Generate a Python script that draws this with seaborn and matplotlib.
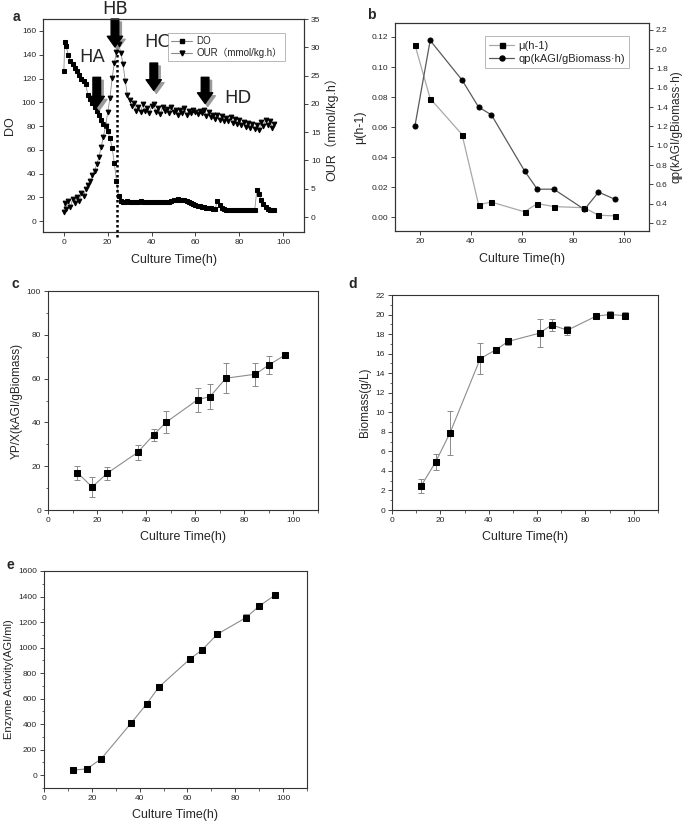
import matplotlib
matplotlib.use("Agg")
import matplotlib.pyplot as plt
import numpy as np
import pandas as pd
import seaborn as sns
from matplotlib.ticker import MultipleLocator, FormatStrFormatter
from matplotlib.lines import Line2D

sns.set_style("ticks")
plt.rcParams["font.family"] = ["Liberation Sans", "Noto Sans CJK SC", "DejaVu Sans"]

# ---- panel a: online DO / OUR ----
t_a = [0, 0.4] + list(range(1, 97))
do_a = [126, 151, 147, 140, 135, 132, 129, 126, 123, 120, 118, 115, 106, 103, 99, 96,
        93, 89, 85, 82, 80, 76, 70, 62, 49, 34, 21, 17, 16.5,
        16.2, 16.8, 16.4, 16.0, 16.6, 16.3, 16.1, 16.7, 16.4, 16.2, 16.5, 16.0, 16.3,
        16.6, 16.2, 15.9, 16.4, 16.1, 16.3, 16.0, 16.2,
        16.8, 17.5, 18.2, 18.5, 18.3, 18.0, 17.6, 16.8, 15.8, 15.0, 14.2, 13.5, 13.0,
        12.5, 12.0, 11.6, 11.2, 11.0, 10.8, 10.6, 10.5, 17.0, 13.5, 11.5, 10.3, 9.8, 9.5,
        9.4, 9.3, 9.3, 9.2, 9.3, 9.2, 9.3, 9.2, 9.3, 9.3, 9.2, 9.3,
        26.0, 23.0, 18.0, 14.5, 12.0, 10.5, 9.8, 9.4, 9.2]
our_a = [0.8, 2.5, 1.5, 2.8, 1.8, 3.2, 2.5, 3.6, 2.9, 4.2, 3.8, 5.0, 5.6, 6.3, 7.4, 8.2,
         9.3, 10.6, 12.3, 14.2, 16.0, 18.5, 21.0, 24.5, 27.2, 29.2, 30.5, 29.0, 27.0,
         24.0, 21.5, 20.6, 19.6, 20.2, 18.8, 19.5, 18.5, 19.9, 18.7, 19.2, 18.4, 19.6,
         20.0, 18.6, 19.3, 18.2, 19.5, 18.8, 19.1, 18.3, 19.4, 18.6, 19.0, 18.1, 18.9,
         18.4, 19.2, 18.0, 18.7, 18.3, 18.9, 18.5, 18.2, 18.8, 18.4, 19.0, 17.8, 18.6,
         17.6, 18.1, 17.3, 18.0, 17.2, 17.8, 16.9, 17.5, 17.0, 17.6, 16.7, 17.3, 16.5,
         17.1, 16.2, 16.8, 15.9, 16.6, 15.7, 16.4, 15.5, 16.2, 15.3, 16.8, 16.0, 17.2,
         16.3, 16.9, 15.8, 16.4]

# ---- panel b: specific rates ----
t_b = [18, 24, 36.5, 43, 48, 61, 66, 72.5, 84.5, 90, 96.5]
mu_b = [0.115, 0.079, 0.055, 0.0082, 0.010, 0.0035, 0.009, 0.007, 0.0062, 0.0012, 0.0008]
qp_b = [1.20, 2.09, 1.68, 1.40, 1.32, 0.74, 0.55, 0.55, 0.34, 0.52, 0.445]

# ---- panels c, d, e: sampled data ----
t_s = [12, 18, 24, 36.5, 43, 48, 61, 66, 72.5, 84.5, 90, 96.5]
yield_c = [17, 10.5, 16.7, 26.3, 34.3, 40, 50.4, 51.8, 60.2, 62, 66.3, 70.7]
yield_err = [3.3, 4.5, 3.0, 3.5, 2.7, 5.0, 5.5, 5.7, 6.8, 5.3, 4.0, 1.5]
biomass_d = [2.45, 4.9, 7.9, 15.5, 16.4, 17.25, 18.1, 18.95, 18.4, 19.85, 20.0, 19.9]
biomass_err = [0.7, 0.85, 2.25, 1.55, 0.1, 0.35, 1.4, 0.6, 0.45, 0.1, 0.4, 0.35]
enzyme_e = [40, 50, 130, 410, 560, 690, 910, 980, 1105, 1235, 1325, 1410]
enzyme_err = [8, 10, 12, 12, 10, 10, 12, 12, 20, 25, 12, 12]

LINE = "#8c8c8c"
TICK_FS = 6
LAB_FS = 9

fig = plt.figure(figsize=(6.85, 8.23), dpi=100)


def style(ax, minor_x=None, minor_y=None):
    for s in ax.spines.values():
        s.set_visible(True)
        s.set_linewidth(0.8)
        s.set_color("#333333")
    ax.tick_params(labelsize=TICK_FS, length=3, width=0.6, direction="out", pad=2)
    ax.tick_params(which="minor", length=1.8, width=0.5)
    if minor_x:
        ax.xaxis.set_minor_locator(MultipleLocator(minor_x))
    if minor_y:
        ax.yaxis.set_minor_locator(MultipleLocator(minor_y))


# ---------------- a ----------------
ax = fig.add_axes([0.0628, 0.7181, 0.381, 0.2588])
ax2 = ax.twinx()
dfa = pd.DataFrame({"t": t_a, "DO": do_a, "OUR": our_a})
sns.lineplot(data=dfa, x="t", y="DO", ax=ax, color=LINE, lw=0.6, marker="s",
             markersize=2.6, markerfacecolor="black", markeredgecolor="black", sort=False)
sns.lineplot(data=dfa, x="t", y="OUR", ax=ax2, color=LINE, lw=0.6, marker="v",
             markersize=3.4, markerfacecolor="black", markeredgecolor="black", sort=False)
ax.set_xlim(-9.5, 109.5)
ax.set_ylim(-9, 170)
ax2.set_ylim(-2.65, 35)
ax.xaxis.set_major_locator(MultipleLocator(20))
ax.yaxis.set_major_locator(MultipleLocator(20))
ax2.yaxis.set_major_locator(MultipleLocator(5))
ax.set_xlabel("Culture Time(h)", fontsize=LAB_FS, labelpad=6)
ax.set_ylabel("DO", fontsize=LAB_FS, labelpad=4)
ax2.set_ylabel("OUR（mmol/kg.h）", fontsize=LAB_FS, labelpad=3)
style(ax)
style(ax2)
ax.plot([24.2, 24.2], [-13, 146], ls=(0, (1, 1)), color="black", lw=1.8, clip_on=False, zorder=5)

arrows = [(15, 121, 96), (23.3, 170, 146.5), (41, 133, 110), (64.4, 121, 99)]
for xa, y0, y1 in arrows:
    for dx, dy, col, z in [(1.2, -2.5, "#9a9a9a", 6), (0, 0, "black", 7)]:
        ax.annotate("", xy=(xa + dx, y1 + dy), xytext=(xa + dx, y0 + dy),
                    arrowprops=dict(arrowstyle="simple,head_width=1.0,head_length=0.7,tail_width=0.5",
                                    color=col, mutation_scale=11, shrinkA=0, shrinkB=0),
                    annotation_clip=False, zorder=z)
for txt, xt, yt in [("HA", 12.8, 138), ("HB", 23.3, 178.5), ("HC", 42.5, 150.7), ("HD", 79.5, 103.6)]:
    ax.text(xt, yt, txt, fontsize=13, ha="center", va="center", clip_on=False,
            family=["DejaVu Sans"], zorder=8)

h = [Line2D([], [], color=LINE, lw=0.8, marker="s", ms=3, mfc="black", mec="black"),
     Line2D([], [], color=LINE, lw=0.8, marker="v", ms=3.5, mfc="black", mec="black")]
leg = ax2.legend(h, ["DO", "OUR（mmol/kg.h）"], loc="upper left", bbox_to_anchor=(0.479, 0.934),
                 fontsize=7, frameon=True, fancybox=False, edgecolor="#999999",
                 borderpad=0.3, handlelength=2.2, labelspacing=0.2, borderaxespad=0,
                 handletextpad=0.4)
leg.get_frame().set_linewidth(0.6)
leg.set_zorder(20)

# ---------------- b ----------------
bx = fig.add_axes([0.5766, 0.7193, 0.3708, 0.2527])
bx2 = bx.twinx()
dfb = pd.DataFrame({"t": t_b, "mu": mu_b, "qp": qp_b})
sns.lineplot(data=dfb, x="t", y="mu", ax=bx, color="#a8a8a8", lw=0.9, marker="s",
             markersize=3.6, markerfacecolor="black", markeredgecolor="black")
sns.lineplot(data=dfb, x="t", y="qp", ax=bx2, color="#5a5a5a", lw=0.9, marker="o",
             markersize=3.6, markerfacecolor="black", markeredgecolor="black")
bx.set_xlim(10.2, 109.8)
bx.set_ylim(-0.0093, 0.1293)
bx2.set_ylim(0.117, 2.27)
bx.xaxis.set_major_locator(MultipleLocator(20))
bx.yaxis.set_major_locator(MultipleLocator(0.02))
bx.yaxis.set_major_formatter(FormatStrFormatter("%.2f"))
bx2.yaxis.set_major_locator(MultipleLocator(0.2))
bx2.yaxis.set_major_formatter(FormatStrFormatter("%.1f"))
bx.set_xlabel("Culture Time(h)", fontsize=LAB_FS, labelpad=6)
bx.set_ylabel("μ(h-1)", fontsize=LAB_FS, labelpad=4)
bx2.set_ylabel("qp(kAGI/gBiomass·h)", fontsize=8.5, labelpad=2)
style(bx)
style(bx2)
hb = [Line2D([], [], color="#a8a8a8", lw=0.9, marker="s", ms=3.6, mfc="black", mec="black"),
      Line2D([], [], color="#5a5a5a", lw=0.9, marker="o", ms=3.6, mfc="black", mec="black")]
lb = bx2.legend(hb, ["μ(h-1)", "qp(kAGI/gBiomass·h)"], loc="upper left",
                bbox_to_anchor=(0.354, 0.937), fontsize=8, frameon=True, fancybox=False,
                edgecolor="#999999", borderpad=0.4, handlelength=2.2, labelspacing=0.3,
                borderaxespad=0, handletextpad=0.4)
lb.get_frame().set_linewidth(0.6)


# ---------------- c, d, e ----------------
def sample_panel(rect, yvals, yerr, ylim, major_y, minor_y, ylabel, lab_fs):
    a = fig.add_axes(rect)
    df = pd.DataFrame({"t": t_s, "v": yvals})
    a.errorbar(t_s, yvals, yerr=yerr, fmt="none", ecolor="#8a8a8a", elinewidth=0.7,
               capsize=2, capthick=0.7, zorder=2)
    sns.lineplot(data=df, x="t", y="v", ax=a, color=LINE, lw=0.8, marker="s",
                 markersize=4.6, markerfacecolor="black", markeredgecolor="black", zorder=3)
    a.set_xlim(0, 110)
    a.set_ylim(*ylim)
    a.xaxis.set_major_locator(MultipleLocator(20))
    a.yaxis.set_major_locator(MultipleLocator(major_y))
    style(a, minor_x=10, minor_y=minor_y)
    a.tick_params(top=False, right=False, which="both")
    a.set_xlabel("Culture Time(h)", fontsize=LAB_FS, labelpad=5)
    a.set_ylabel(ylabel, fontsize=lab_fs, labelpad=3)
    return a


sample_panel([0.0701, 0.3803, 0.3942, 0.2661], yield_c, yield_err, (0, 100), 20, 10,
             "YP/X(kAGI/gBiomass)", 8.5)
sample_panel([0.5723, 0.3803, 0.3883, 0.2612], biomass_d, biomass_err, (0, 22), 2, 1,
             "Biomass(g/L)", 8.5)
sample_panel([0.0642, 0.0425, 0.384, 0.2637], enzyme_e, enzyme_err, (-100, 1600), 200, 100,
             "Enzyme Activity(AGI/ml)", 8)

for letter, xf, yf in [("a", 0.019, 0.979), ("b", 0.536, 0.982), ("c", 0.0175, 0.655),
                       ("d", 0.508, 0.655), ("e", 0.010, 0.313)]:
    fig.text(xf, yf, letter, fontsize=10, fontweight="bold", ha="left", va="center")

fig.savefig("out.png", dpi=100)
